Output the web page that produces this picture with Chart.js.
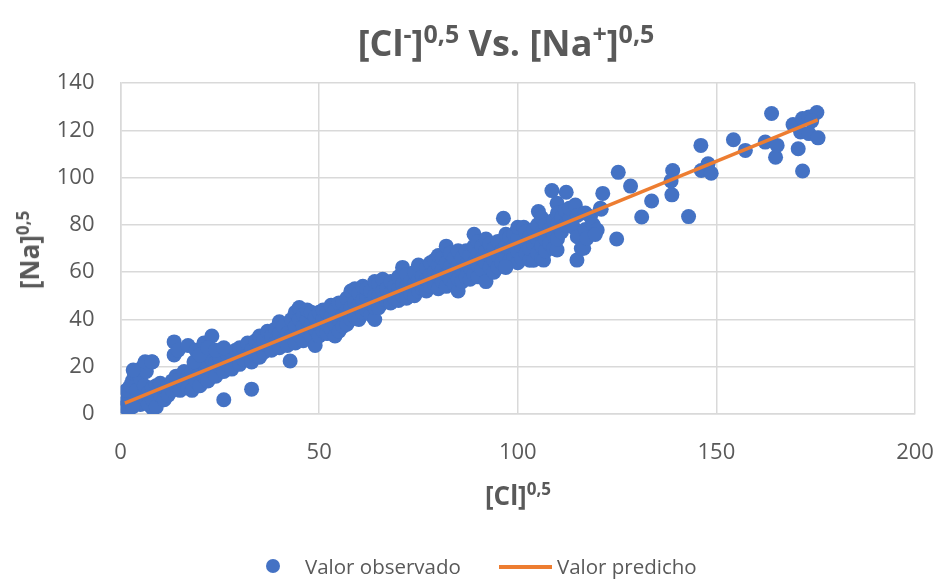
<!DOCTYPE html>
<html>
<head>
<meta charset="utf-8">
<script src="https://cdn.jsdelivr.net/npm/chart.js@4.4.1/dist/chart.umd.min.js"></script>
<style>
  html, body { margin: 0; padding: 0; background: #ffffff; }
  #wrap { position: relative; width: 939px; height: 581px; overflow: hidden;
          font-family: "Open Sans", sans-serif; color: #595959; }
  #c { position: absolute; left: 0; top: 0; }
  .txt { position: absolute; white-space: nowrap; line-height: 1; }
  .bold { font-weight: bold; }
  .sup { position: relative; }
  #title { left: 506px; top: 25px; font-size: 36px; transform: translateX(-50%); }
  #title .sup { font-size: 25px; top: -13px; }
  #xTitle { left: 518px; top: 482px; font-size: 26px; transform: translateX(-50%); }
  #xTitle .sup, #yTitle .sup { font-size: 17px; top: -10px; }
  #yTitle { left: 29px; top: 250px; font-size: 26px; transform: translate(-50%, -50%) rotate(-90deg); }
  .legText { font-size: 20.5px; top: 556px; }
  #legDot { position: absolute; left: 266px; top: 559px; width: 14px; height: 14px;
            border-radius: 50%; background: #4472c4; }
  #legLine { position: absolute; left: 499px; top: 565px; width: 53px; height: 3.5px;
             background: #ed7d31; }
</style>
</head>
<body>
<div id="wrap">
  <canvas id="c" width="939" height="581"></canvas>
  <div id="title" class="txt bold">[Cl<span class="sup">-</span>]<span class="sup">0,5</span> Vs. [Na<span class="sup">+</span>]<span class="sup">0,5</span></div>
  <div id="xTitle" class="txt bold">[Cl]<span class="sup">0,5</span></div>
  <div id="yTitle" class="txt bold">[Na]<span class="sup">0,5</span></div>
  <div id="legDot"></div>
  <div class="txt legText" style="left:305px">Valor observado</div>
  <div id="legLine"></div>
  <div class="txt legText" style="left:557px">Valor predicho</div>
</div>
<script>
// Observed [Cl]^0.5 vs [Na]^0.5 pairs, grouped by Cl range
const obsLow = [
  [1,3],[1.5,5.5],[2,2],[2,8],[1.5,10],[2.5,12],[3,14],[3.5,17],[4,6],[4,10],[5,15],[5,19],
  [6,21],[6.5,18],[8,22],[6,12],[5,4],[8,2.5],[3,3],[3.2,18.6],[6.2,22.1],[7.9,22.1],
  [7,4],[7,9],[8,11],[8,6],[9,3],[9,12],[10,8],[10,13],[11,10],[11,6],[12,12],[12,8],
  [13,14],[13,10],[14,12],[14,16],[15,10],[15,15],[16,13],[16,18],[17,16],[17,11],[18,10],
  [18,18],[19,14],[19,20],[20,12],[20,19],[21,16],[21,21],[22,14],[22,20],[23,18],[23,23],
  [24,16],[24,22],[25,20],[25,24],[26,6],[26,18],[27,21],[27,25],[28,19],[28,26],[29,22],
  [29,27],[30,21],[30,28],[33,10.5],
  [13.5,30.5],[13.5,25],[14.5,27],[17,29],[18.5,22],[19,27],[21,30],[20,25],[23,33],[22,28],
  [24,27],[26,28]
];
const obsMid = [
  [31,23],[31,28],[32,25],[32,30],[33,22],[33,27],[34,25],[34,31],[35,28],[35,33],[35,24],
  [36,26],[36,31],[37,29],[37,35],[38,27],[38,33],[39,30],[39,36],[40,28],[40,34],[40,39],
  [41,31],[41,37],[42,29],[42,34],[42.7,22.4],[43,33],[43,40],[44,30],[44,37],[44,43],
  [45,33],[45,40],[45,45],[46,31],[46,37],[46,42],[47,35],[47,40],[47,44],[48,33],[48,38],
  [48,43],[49,29],[49,36],[49,41],[50,33],[50,38],[50,43],
  [51,35],[51,40],[51,44],[52,34],[52,38],[52,43],[53,36],[53,41],[53,46],[54,33],[54,38],
  [54,44],[55,35],[55,40],[55,47],[56,37],[56,42],[56,47],[57,38],[57,44],[57,49],[58,40],
  [58,45],[58,52],[59,41],[59,47],[59,53],[60,40],[60,46],[60,51],
  [61,43],[61,48],[61,54],[62,44],[62,49],[62,53],[63,42],[63,47],[63,52],[64,40],[64,45],
  [64,50],[64,56],[65,45],[65,50],[65,55],[66,47],[66,52],[66,57],[67,48],[67,53],[68,47],
  [68,51],[68,56],[69,49],[69,54],[70,48],[70,53],[70,58],[71,62]
];
const obsUpper = [
  [71,50],[71,55],[72,49],[72,54],[72,59],[73,51],[73,56],[74,50],[74,55],[74,60],[75,52],
  [75,57],[75,63],[76,53],[76,58],[77,52],[77,57],[77,62],[78,54],[78,59],[78,64],[79,55],
  [79,60],[79,65],[80,53],[80,58],[80,63],[80,67],
  [81,56],[81,61],[81,66],[82,54],[82,59],[82,64],[82,71],[83,57],[83,62],[83,68],[84,55],
  [84,60],[84,66],[85,52],[85,57],[85,63],[85,69],[86,56],[86,61],[86,66],[87,58],[87,63],
  [87,69],[88,57],[88,62],[88,67],[89,59],[89,64],[89,71],[89,76],[90,58],[90,63],[90,68],
  [90,73],
  [91,61],[91,66],[91,71],[92,56],[92,64],[92,69],[92,74],[93,62],[93,67],[93,72],[94,60],
  [94,65],[94,70],[95,62],[95,67],[95,73],[96,64],[96,69],[96.4,82.8],[97,62],[97,66],
  [97,71],[97,76],[98,65],[98,70],[98,75],[99,66],[99,71],[99,76],[100,64],[100,69],
  [100,74],[100,79],[96.9,62.3]
];
const obsHigh = [
  [101,66],[101,71],[101.5,79],[102,68],[102,73],[102,77],[103,65],[103,70],[103,75],
  [104,65],[104,72],[104,78],[105,68],[105,74],[105,80],[105.2,85.6],[106,66],[106,71],
  [106,77],[106,83],[106.5,65.1],[107,69],[107,74],[107,80],[108,72],[108,78],[108.6,94.5],
  [109,70],[109,76],[109,82],[109.9,89.1],[109.9,69.4],[110,74],[110,80],[110,85],[111,77],
  [111,83],[112,80],[112.2,93.8],[112,86],
  [113,82],[113,87],[114.5,88.4],[114,79],[114.9,65.1],[115,75],[115,84],[116,70],
  [116.6,70.1],[117,78],[117.4,74.3],[117,85],[118.3,83.5],[119,80],[120,77.8],[120.8,87],
  [121.4,93.3],[121,86.6],[119.5,75.9],[124.9,74],[125.3,102.2],[128.4,96.4],[131.2,83.3],
  [133.7,90.1],
  [138.8,92.7],[138.6,98.6],[139,103],[143,83.5],[146.1,113.6],[146.2,103],[147.9,105.8],
  [148.7,101.8],[154.3,116],[157.3,111.5],[162.3,115],[163.9,127.1],[164.9,108.6],
  [165.3,113.6],[169.3,122.4],[170.6,112.2],[171.2,119.3],[171.7,125],[171.7,102.8],
  [173.3,125.6],[173.3,118.6],[175.3,127.5],[175.6,116.8],[174,124]
];
// Fitted line end points
const predX = [1.1, 175.5];
const predY = [4.6, 124.4];

const xTicks = [0, 50, 100, 150, 200];
const yTicks = [0, 20, 40, 60, 80, 100, 120, 140];

const observed = [...obsLow, ...obsMid, ...obsUpper, ...obsHigh].map(([x, y]) => ({ x, y }));
const predicted = predX.map((x, i) => ({ x, y: predY[i] }));

const tickFont = { family: 'Open Sans', size: 22 };
const gridColor = '#d9d9d9';

new Chart(document.getElementById('c'), {
  type: 'scatter',
  data: {
    datasets: [
      { label: 'Valor observado', data: observed, backgroundColor: '#4472c4',
        borderWidth: 0, pointRadius: 7.5, pointHoverRadius: 7.5, order: 1 },
      { label: 'Valor predicho', data: predicted, showLine: true, borderColor: '#ed7d31',
        backgroundColor: '#ed7d31', borderWidth: 3.5, pointRadius: 0, fill: false, order: 0 }
    ]
  },
  options: {
    responsive: false,
    animation: false,
    devicePixelRatio: 1,
    layout: { padding: { top: 83, right: 24, left: 0, bottom: 0 } },
    plugins: { legend: { display: false }, title: { display: false }, tooltip: { enabled: false } },
    scales: {
      x: {
        type: 'linear', min: xTicks[0], max: xTicks[xTicks.length - 1],
        afterBuildTicks: s => { s.ticks = xTicks.map(v => ({ value: v })); },
        ticks: { color: '#595959', font: tickFont, padding: 0, maxRotation: 0 },
        // invisible tick marks keep the labels clear of the axis
        grid: { color: gridColor, lineWidth: 1.5, drawTicks: true, tickLength: 26, tickColor: 'rgba(0,0,0,0)' },
        border: { color: gridColor, width: 1.5 },
        afterFit: s => { s.height = 167; }
      },
      y: {
        type: 'linear', min: yTicks[0], max: yTicks[yTicks.length - 1],
        afterBuildTicks: s => { s.ticks = yTicks.map(v => ({ value: v })); },
        ticks: { color: '#595959', font: tickFont, padding: 26 },
        grid: { color: gridColor, lineWidth: 1.5, drawTicks: false },
        border: { color: gridColor, width: 1.5 },
        afterFit: s => { s.width = 120.5; }
      }
    }
  }
});
</script>
</body>
</html>
